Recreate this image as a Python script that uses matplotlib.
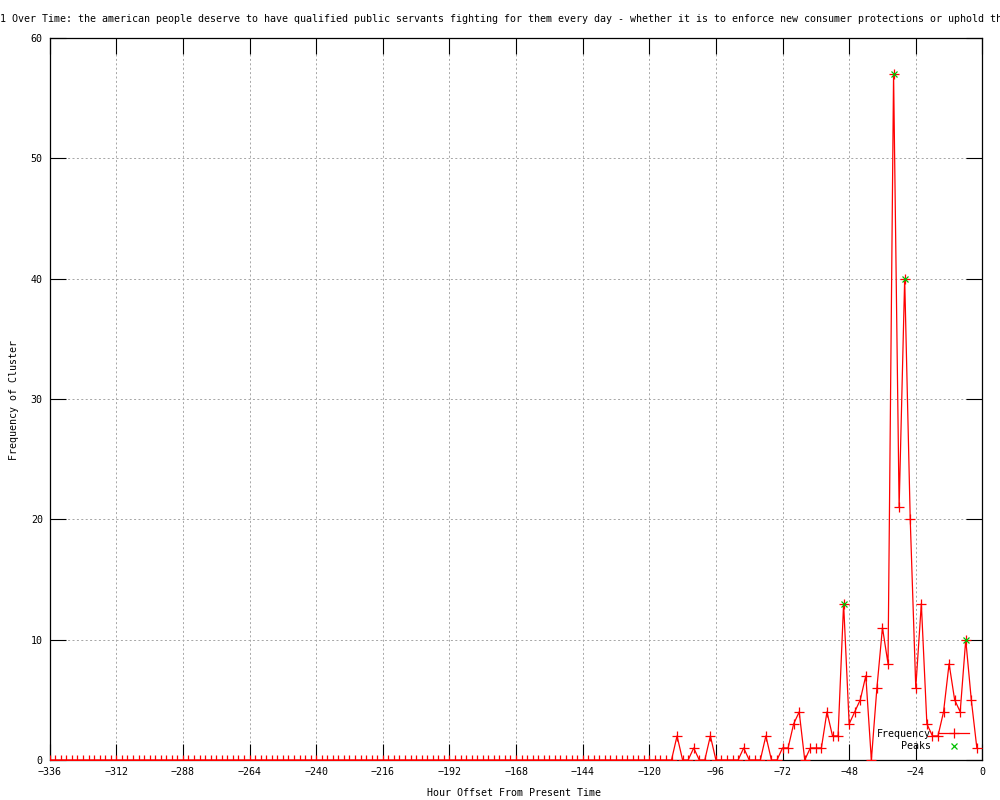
import matplotlib.pyplot as plt

# hours before now, one point every 2 hours
hours = list(range(-336, 0, 2))

# cluster frequency per 2-hour bin (-336 ... -2)
freq = [
    0, 0, 0, 0, 0, 0, 0, 0, 0, 0, 0, 0, 0, 0, 0, 0, 0, 0, 0, 0,
    0, 0, 0, 0, 0, 0, 0, 0, 0, 0, 0, 0, 0, 0, 0, 0, 0, 0, 0, 0,
    0, 0, 0, 0, 0, 0, 0, 0, 0, 0, 0, 0, 0, 0, 0, 0, 0, 0, 0, 0,
    0, 0, 0, 0, 0, 0, 0, 0, 0, 0, 0, 0, 0, 0, 0, 0, 0, 0, 0, 0,
    0, 0, 0, 0, 0, 0, 0, 0, 0, 0, 0, 0, 0, 0, 0, 0, 0, 0, 0, 0,
    0, 0, 0, 0, 0, 0, 0, 0, 0, 0, 0, 0, 0,
    # -110 .. -2
    2, 0, 0, 1, 0, 0, 2, 0, 0, 0, 0, 0, 1, 0, 0, 0, 2, 0, 0, 1,
    1, 3, 4, 0, 1, 1, 1, 4, 2, 2, 13, 3, 4, 5, 7, 0, 6, 11, 8, 57,
    21, 40, 20, 6, 13, 3, 2, 2, 4, 8, 5, 4, 10, 5, 1,
]

peak_hours = [-50, -32, -28, -6]
peak_vals = [13, 57, 40, 10]

title = ("1 Over Time: the american people deserve to have qualified public servants "
         "fighting for them every day - whether it is to enforce new consumer protections or uphold th")

mono = "DejaVu Sans Mono"
fs = 7.2

fig = plt.figure(figsize=(10, 8), dpi=100)
ax = fig.add_axes([0.0497, 0.05, 0.9327, 0.9025])

ax.plot(hours, freq, color="red", lw=0.9, marker="+", markersize=6.5,
        markeredgewidth=0.9, label="Frequency", zorder=3)
ax.plot(peak_hours, peak_vals, color="#00c000", lw=0, marker="x", markersize=5,
        markeredgewidth=0.9, label="Peaks", zorder=4)

ax.set_xlim(-336, 0)
ax.set_ylim(0, 60)
ax.set_xticks(range(-336, 1, 24))
ax.set_yticks(range(0, 61, 10))

# gnuplot-like dotted grid
ax.grid(True, color="#a8a8a8", linestyle=(0, (2, 2.4)), lw=0.72)
ax.tick_params(direction="in", length=11.5, width=0.8, top=True, right=True,
               labelsize=fs, pad=5)
for lab in ax.get_xticklabels() + ax.get_yticklabels():
    lab.set_family(mono)
for s in ax.spines.values():
    s.set_linewidth(0.9)

leg = ax.legend(loc="lower right", bbox_to_anchor=(0.986, 0.012), frameon=False,
                markerfirst=False, numpoints=1, handlelength=3.1, handletextpad=0.7,
                labelspacing=0.25, borderpad=0, borderaxespad=0,
                prop={"family": mono, "size": fs})
for t in leg.get_texts():
    t.set_ha("right")

fig.text(0.0, 1 - 19 / 800, title, ha="left", va="center", fontsize=fs, family=mono)
fig.text(0.514, 1 - 793 / 800, "Hour Offset From Present Time", ha="center", va="center",
         fontsize=fs, family=mono)
fig.text(0.014, 0.5, "Frequency of Cluster", ha="center", va="center", rotation=90,
         fontsize=fs, family=mono)

fig.savefig("out.png", dpi=100)
